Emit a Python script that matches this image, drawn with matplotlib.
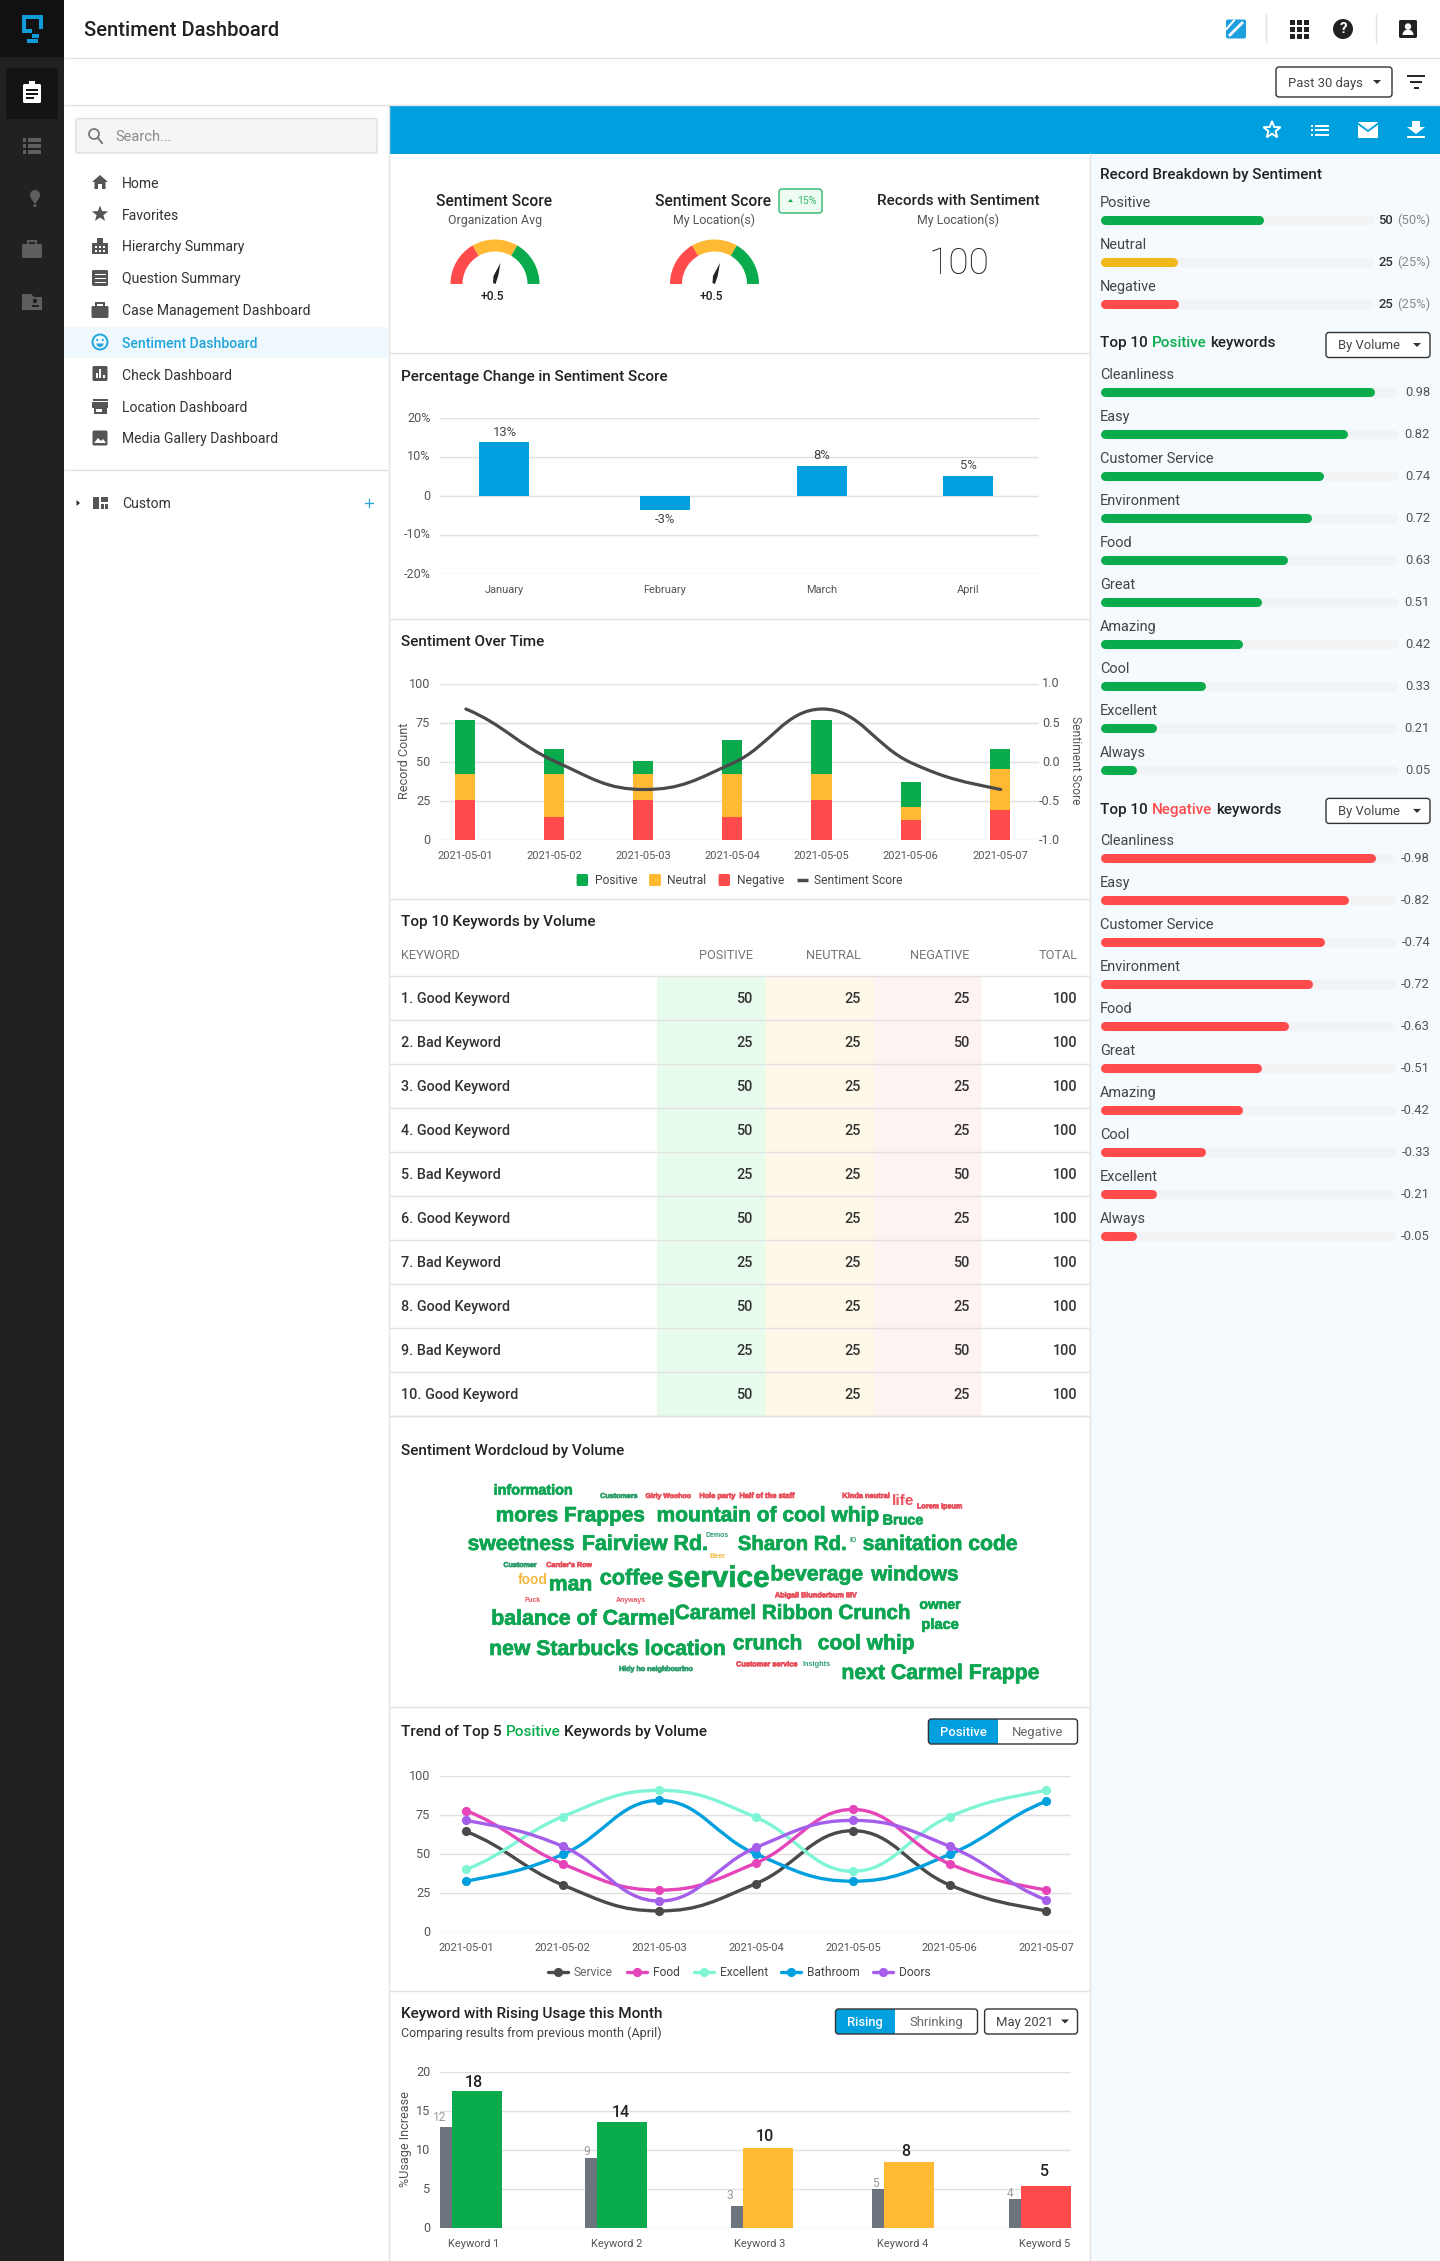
import numpy as np
import matplotlib
matplotlib.use("Agg")
import matplotlib.pyplot as plt
import matplotlib.patheffects as pe
from matplotlib.patches import Rectangle, Circle, Wedge, Polygon, FancyBboxPatch, PathPatch
from matplotlib.path import Path
from matplotlib.textpath import TextPath
from matplotlib.transforms import ScaledTranslation
from matplotlib.font_manager import FontProperties

plt.rcParams['font.family'] = ['Roboto', 'DejaVu Sans']

W, H = 1440, 2261

# colours
GREEN = '#0AAB4C'
ORANGE = '#FFB933'
RED = '#FF4B4B'
BLUE = '#00A0DF'
YELLOW = '#F0B91B'
DARK = '#2B2B2B'
GRID = '#E0E0E0'
LINE = '#E2E2E2'
TICK = '#555555'
TITLE = 15.3

# data
pct_months = ['January', 'February', 'March', 'April']
pct_values = [13.9, -3.5, 7.8, 5.2]
pct_labels = ['13%', '-3%', '8%', '5%']

days = ['2021-05-01', '2021-05-02', '2021-05-03', '2021-05-04', '2021-05-05', '2021-05-06', '2021-05-07']
day_negative = [26, 15, 26, 15, 26, 13, 19.5]
day_neutral = [16.5, 27.5, 16.5, 27.5, 16.5, 8, 26]
day_positive = [34.5, 16, 8.5, 21.5, 34.5, 16.5, 13]
day_score = [0.68, 0.01, -0.35, -0.01, 0.68, -0.01, -0.35]

table_names = ['Good Keyword', 'Bad Keyword', 'Good Keyword', 'Good Keyword', 'Bad Keyword',
               'Good Keyword', 'Bad Keyword', 'Good Keyword', 'Bad Keyword', 'Good Keyword']
table_positive = [50, 25, 50, 50, 25, 50, 25, 50, 25, 50]
table_neutral = [25, 25, 25, 25, 25, 25, 25, 25, 25, 25]
table_negative = [25, 50, 25, 25, 50, 25, 50, 25, 50, 25]
table_total = [100, 100, 100, 100, 100, 100, 100, 100, 100, 100]

trend_service = [64.5, 30.3, 13.7, 31.2, 65, 30.3, 13.7]
trend_food = [77.8, 43.8, 27, 44.4, 78.6, 43.8, 27]
trend_excellent = [40.2, 74, 90.8, 73.5, 39, 74, 90.8]
trend_bathroom = [32.7, 49.8, 84.4, 50, 32.7, 49.8, 83.8]
trend_doors = [71.6, 55, 20, 54.3, 71.6, 55, 20.7]

rising_names = ['Keyword 1', 'Keyword 2', 'Keyword 3', 'Keyword 4', 'Keyword 5']
rising_before = [13, 9, 2.9, 5, 3.8]
rising_now = [17.6, 13.6, 10.3, 8.5, 5.4]
rising_before_labels = ['12', '9', '3', '5', '4']
rising_now_labels = ['18', '14', '10', '8', '5']
rising_colors = [GREEN, GREEN, ORANGE, ORANGE, RED]

breakdown_names = ['Positive', 'Neutral', 'Negative']
breakdown_counts = [50, 25, 25]
breakdown_share = ['(50%)', '(25%)', '(25%)']
breakdown_length = [163, 77, 78]

keyword_names = ['Cleanliness', 'Easy', 'Customer Service', 'Environment', 'Food',
                 'Great', 'Amazing', 'Cool', 'Excellent', 'Always']
keyword_scores = [0.98, 0.82, 0.74, 0.72, 0.63, 0.51, 0.42, 0.33, 0.21, 0.05]
keyword_length = [275, 248, 224, 212, 188, 161, 142, 105, 56, 36]

nav_names = ['Home', 'Favorites', 'Hierarchy Summary', 'Question Summary', 'Case Management Dashboard',
             'Sentiment Dashboard', 'Check Dashboard', 'Location Dashboard', 'Media Gallery Dashboard']

WG = '#0DA552'
WT = '#2F9F6E'
WR = '#E8525E'
WO = '#F4B942'
word_texts = ['information', 'Customers', 'Girly Woohoo', 'Hole party', 'Half of the staff', 'Kinda neutral',
              'life', 'Lorem Ipsum', 'mores Frappes', 'mountain of cool whip', 'Bruce', 'sweetness',
              'Fairview Rd.', 'Demos', 'Sharon Rd.', 'IO', 'sanitation code', 'Beer', 'Customer',
              "Carder's Row", 'food', 'man', 'coffee', 'service', 'beverage', 'windows', 'Fuck', 'Anyways',
              'Abigail Blunderbum IIIV', 'owner', 'place', 'balance of Carmel', 'Caramel Ribbon Crunch',
              'new Starbucks location', 'crunch', 'cool whip', 'Hidy ho neighbourino', 'Customer service',
              'Insights', 'next Carmel Frappe']
word_colors = [WG, WT, WR, WR, WR, WR, WR, WR, WG, WG, WG, WG, WG, WT, WG, WT, WG, WO, WT, WR, WO, WG, WG, WG,
               WG, WG, WR, WR, WR, WG, WG, WG, WG, WG, WG, WG, WT, WR, WT, WG]
word_left = [156, 417, 528, 660, 758, 1010, 1132, 1193, 161, 555, 1109, 92, 372, 676, 754, 1028, 1060, 685, 180,
             285, 215, 291, 416, 581, 834, 1081, 231, 456, 845, 1199, 1204, 150, 600, 145, 742, 950, 463, 750,
             912, 1008]
word_right = [345, 507, 638, 747, 892, 1124, 1182, 1302, 521, 1095, 1205, 350, 674, 731, 1016, 1044, 1436, 723, 260,
              396, 285, 391, 568, 827, 1056, 1293, 269, 528, 1045, 1298, 1292, 593, 1172, 718, 907, 1183, 642, 899,
              979, 1488]
word_mid = [87, 105, 105, 105, 105, 105, 118, 136, 163, 163, 177, 249, 249, 222, 249, 238, 249, 284, 312,
            312, 355, 370, 352, 352, 340, 340, 416, 416, 403, 430, 490, 473, 456, 564, 547, 547, 624, 610,
            610, 636]

fig = plt.figure(figsize=(W / 100, H / 100), dpi=100, facecolor='white')
page = fig.add_axes([0, 0, 1, 1], zorder=0)
page.set_xlim(0, W)
page.set_ylim(H, 0)
page.axis('off')


def px_axes(x0, y0, x1, y1):
    ax = fig.add_axes([x0 / W, 1 - y1 / H, (x1 - x0) / W, (y1 - y0) / H], zorder=2)
    ax.patch.set_alpha(0)
    for side in ax.spines.values():
        side.set_visible(False)
    return ax


def rect(x0, y0, x1, y1, color, z=1):
    page.add_patch(Rectangle((x0, y0), x1 - x0, y1 - y0, fc=color, ec='none', zorder=z))


def hline(y, x0, x1, color=LINE, lw=1.0, z=2):
    page.plot([x0, x1], [y, y], color=color, lw=lw, solid_capstyle='butt', zorder=z)


def vline(x, y0, y1, color=LINE, lw=1.0, z=2):
    page.plot([x, x], [y0, y1], color=color, lw=lw, solid_capstyle='butt', zorder=z)


def box(x0, y0, x1, y1, fc='white', ec='#333333', r=3, lw=1.0, z=3):
    page.add_patch(FancyBboxPatch((x0, y0), x1 - x0, y1 - y0, boxstyle=f'round,pad=0,rounding_size={r}',
                                  fc=fc, ec=ec, lw=lw, zorder=z))


def label(x, y, s, px=14, color=DARK, ha='left', weight='normal', z=6, **kw):
    # roboto sits a little high with va=center, so nudge it down
    return page.text(x, y + 1.5, s, fontsize=px * 0.72, color=color, ha=ha, va='center', fontweight=weight, zorder=z, **kw)


def pieces(x, y, parts, px=TITLE, weight='medium'):
    # title with words in different colours, laid out one after the other on one baseline
    r = fig.canvas.get_renderer()
    for s, c in parts:
        t = page.text(x, y + 1.5 + px * 0.3, s, fontsize=px * 0.72, color=c, ha='left', va='baseline',
                      fontweight=weight, zorder=6)
        x += t.get_window_extent(r).width + px * 0.25


def toggle(x0, xm, x1, y0, y1, on, off):
    box(x0, y0, xm + 3, y1, fc=BLUE, ec='none', r=3, z=3)
    rect(xm, y0, x1 - 3, y1, 'white', z=3.1)
    box(x0, y0, x1, y1, fc='none', ec='#333333', z=4)
    label((x0 + xm) / 2, (y0 + y1) / 2 - 0.5, on, 13, 'white', ha='center', weight='medium')
    label((xm + x1) / 2, (y0 + y1) / 2 - 0.5, off, 13, '#666666', ha='center')


def caret(x, y, color='#333333'):
    page.add_patch(Polygon([(x - 4, y - 2), (x + 4, y - 2), (x, y + 2)], fc=color, ec='none', zorder=6))


def dropdown(x0, y0, x1, y1, s, tx, cx):
    box(x0, y0, x1, y1)
    label(tx, (y0 + y1) / 2 - 0.5, s, 13, '#444444')
    caret(cx, (y0 + y1) / 2)


def smooth(xs, ys, end=0.7):
    # one cubic bezier per interval, flat at the turning points
    xs = np.asarray(xs, float)
    ys = np.asarray(ys, float)
    n = len(xs)
    slope = np.zeros(n)
    slope[0] = (ys[1] - ys[0]) / (xs[1] - xs[0]) * end
    slope[-1] = (ys[-1] - ys[-2]) / (xs[-1] - xs[-2]) * end
    for i in range(1, n - 1):
        if (ys[i] - ys[i - 1]) * (ys[i + 1] - ys[i]) > 0:
            slope[i] = (ys[i + 1] - ys[i - 1]) / (xs[i + 1] - xs[i - 1])
    verts = [(xs[0], ys[0])]
    codes = [Path.MOVETO]
    for i in range(n - 1):
        d = (xs[i + 1] - xs[i]) * 0.42
        verts += [(xs[i] + d, ys[i] + slope[i] * d), (xs[i + 1] - d, ys[i + 1] - slope[i + 1] * d), (xs[i + 1], ys[i + 1])]
        codes += [Path.CURVE4] * 3
    return Path(verts, codes)


def lift_labels(ax):
    # y tick labels sit just above their grid line in the reference
    for t in ax.get_yticklabels():
        t.set_transform(t.get_transform() + ScaledTranslation(0, 1.5 / 100, fig.dpi_scale_trans))


def style_axis(ax, yticks, ylabels):
    ax.set_yticks(yticks)
    ax.set_yticklabels(ylabels)
    ax.yaxis.grid(True, color=GRID, lw=1.0)
    ax.xaxis.grid(False)
    ax.set_axisbelow(True)
    ax.tick_params(axis='y', length=0, pad=7, labelsize=12 * 0.72 + 0.5, labelcolor=TICK)
    ax.tick_params(axis='x', length=0, labelsize=11 * 0.72, labelcolor=TICK)
    lift_labels(ax)


# page frame
rect(0, 0, 64, H, '#212121')
rect(0, 0, 64, 57, '#111111')
rect(6, 68, 58, 119, '#141414')
hline(57.5, 64, W)
hline(105, 64, W)
rect(389, 106, W, 153.5, BLUE)
rect(1090, 153.5, W, H, '#F5FAFE')
vline(388.5, 106, H)
vline(1089.5, 153, H)
rect(64, 326.5, 388, 357.5, '#EFF9FD')
hline(470, 64, 388)
label(84, 28.5, 'Sentiment Dashboard', 20.2, '#222222', weight='medium')


# small icons, all built out of basic shapes
def p_rect(x0, y0, x1, y1, c, z=5):
    rect(x0, y0, x1, y1, c, z)


def p_round(x0, y0, x1, y1, c, r=1.5, z=5):
    box(x0, y0, x1, y1, fc=c, ec='none', r=r, z=z)


def star(cx, cy, r, fc, ec='none', lw=0):
    a = np.radians(np.arange(10) * 36 - 90)
    rad = np.where(np.arange(10) % 2 == 0, r, r * 0.42)
    page.add_patch(Polygon(np.c_[cx + rad * np.cos(a), cy + rad * np.sin(a)], fc=fc, ec=ec, lw=lw, zorder=5))


def icon_clipboard(cx, cy, c, bg):
    p_round(cx - 9, cy - 9, cx + 9, cy + 10, c)
    p_rect(cx - 3, cy - 12, cx + 3, cy - 8, c)
    for dy, w in ((-3, 6), (1, 6), (5, 4)):
        p_rect(cx - 6, cy + dy - 0.8, cx - 6 + 2 * w, cy + dy + 0.8, bg, z=5.5)


def icon_list(cx, cy, c):
    for dy in (-6, 0, 6):
        p_rect(cx - 9, cy + dy - 2, cx - 6, cy + dy + 2, c)
        p_rect(cx - 4.5, cy + dy - 2, cx + 9, cy + dy + 2, c)


def icon_case(cx, cy, c, w=10, h=8):
    p_round(cx - w, cy - h + 2, cx + w, cy + h, c)
    page.add_patch(Rectangle((cx - 4, cy - h - 1), 8, 4, fc='none', ec=c, lw=1.4, zorder=5))


icon_clipboard(32, 93, 'white', '#141414')
icon_list(32, 146, '#5E5E5E')
page.add_patch(Circle((35, 195), 5, fc='#5E5E5E', ec='none', zorder=5))
page.add_patch(Polygon([(30.5, 197), (39.5, 197), (36, 203), (34, 203)], fc='#5E5E5E', ec='none', zorder=5))
page.add_patch(Circle((35, 205.5), 1.6, fc='#5E5E5E', ec='none', zorder=5))
icon_case(32, 250, '#5E5E5E')
page.add_patch(Polygon([(22, 294), (31, 294), (34, 297), (42, 297), (42, 310), (22, 310)], fc='#5E5E5E', ec='none', zorder=5))
page.add_patch(Circle((35, 301), 2.2, fc='#212121', ec='none', zorder=6))
p_rect(31.5, 304.5, 38.5, 307, '#212121', z=6)

# logo
page.add_patch(Polygon([(22, 15), (43, 15), (43, 29), (39, 29), (39, 19), (26, 19), (26, 29), (32, 29), (32, 33), (22, 33)],
                       fc='#0F9BD7', ec='none', zorder=5))
p_rect(32, 34, 39, 37.5, '#0F9BD7')
p_rect(27, 39, 38, 43, '#0F9BD7')

# search box
box(76, 118.5, 377, 153, fc='#F5F5F5', ec='#DDDDDD', r=2)
page.add_patch(Circle((94, 134), 5, fc='none', ec='#777777', lw=1.3, zorder=6))
page.plot([98, 102], [138, 143], color='#777777', lw=1.4, zorder=6)
label(115.5, 135.5, 'Search...', 14.6, '#8A8A8A')

# left nav
IC = '#555555'
for i, name in enumerate(nav_names):
    ny = 182 + 32 * i
    selected = name == 'Sentiment Dashboard'
    label(122, ny, name, 14, '#22A5DB' if selected else '#333333', weight='medium' if selected else 'normal')
page.add_patch(Polygon([(100, 175), (108, 182), (105.5, 182), (105.5, 189), (102, 189), (102, 184), (98, 184), (98, 189),
                        (94.5, 189), (94.5, 182), (92, 182)], fc=IC, ec='none', zorder=5))
star(100, 214, 8.5, IC)
p_rect(92, 243, 108, 254, IC)
p_rect(97, 238, 103, 244, IC)
for dx in (95, 99, 103):
    for dy in (246, 250):
        p_rect(dx, dy, dx + 2, dy + 2, 'white', z=5.5)
p_round(92, 270, 108, 286, IC)
for dy in (273.5, 277.5, 281.5):
    p_rect(94.5, dy, 105.5, dy + 1.6, 'white', z=5.5)
icon_case(100, 311, IC, w=8.5, h=7)
page.add_patch(Circle((100, 342), 7.5, fc='none', ec='#22A5DB', lw=1.4, zorder=5))
page.add_patch(Circle((97.2, 340), 1.1, fc='#22A5DB', ec='none', zorder=5))
page.add_patch(Circle((102.8, 340), 1.1, fc='#22A5DB', ec='none', zorder=5))
page.add_patch(Wedge((100, 343.5), 3.6, 0, 180, fc='#22A5DB', ec='none', zorder=5))
p_round(92.5, 366, 107.5, 381, IC)
for x0, h in ((95.5, 5), (99, 9), (102.5, 3)):
    p_rect(x0, 378 - h, x0 + 2, 378, 'white', z=5.5)
p_rect(92.5, 399, 107.5, 401, IC)
p_rect(92, 402, 108, 407.5, IC)
p_rect(93.5, 407, 106.5, 413.5, IC)
p_rect(96, 408.5, 102, 411.5, 'white', z=5.5)
p_round(92.5, 430.5, 107.5, 445.5, IC)
page.add_patch(Polygon([(94, 443), (98, 438), (101, 441), (103, 439), (106, 443)], fc='white', ec='none', zorder=5.5))
page.add_patch(Polygon([(76.5, 500), (80, 503), (76.5, 506)], fc='#333333', ec='none', zorder=5))
p_rect(93, 497, 99, 509, IC)
p_rect(100.5, 497, 108, 502, IC)
p_rect(100.5, 503.5, 103.5, 509, IC)
p_rect(105, 503.5, 108, 509, IC)
label(122, 503, 'Custom', 14, '#333333')
page.plot([365, 373], [503, 503], color='#22A5DB', lw=0.9, zorder=5)
page.plot([369, 369], [499, 507], color='#22A5DB', lw=0.9, zorder=5)

# top bar icons
p_round(1226, 19.5, 1246, 38.5, '#1E9FDD', r=2)
page.plot([1230, 1242], [35, 23], color='white', lw=2.0, zorder=6)
page.plot([1226.5, 1234], [29, 20.5], color='white', lw=1.5, zorder=6)
vline(1266, 14, 43)
vline(1375.5, 14, 43)
for dx in (-7, 0, 7):
    for dy in (-7, 0, 7):
        p_rect(1299 + dx - 2.5, 29 + dy - 2.5, 1299 + dx + 2.5, 29 + dy + 2.5, '#222222')
page.add_patch(Circle((1343, 29), 10, fc='#222222', ec='none', zorder=5))
label(1343, 27.5, '?', 15, 'white', ha='center', weight='bold')
p_round(1399, 20, 1417, 38, '#222222')
page.add_patch(Circle((1408, 26.5), 3.2, fc='white', ec='none', zorder=6))
page.add_patch(Wedge((1408, 35), 5.5, 180, 360, fc='white', ec='none', zorder=6))

dropdown(1276, 67, 1392, 97, 'Past 30 days', 1288, 1377)
hline(76, 1407, 1425, '#222222', 1.4, z=5)
hline(82, 1410, 1422, '#222222', 1.4, z=5)
hline(88, 1413.5, 1418.5, '#222222', 1.4, z=5)

# blue band icons
star(1272, 130, 9, 'none', ec='white', lw=1.4)
for dy in (-4.5, 0, 4.5):
    p_rect(1311, 130 + dy - 1, 1313, 130 + dy + 1, 'white')
    p_rect(1315, 130 + dy - 1, 1329, 130 + dy + 1, 'white')
p_round(1358, 122, 1378, 138, 'white', r=1)
page.plot([1358.5, 1368, 1377.5], [124, 131, 124], color=BLUE, lw=1.3, zorder=6)
page.add_patch(Polygon([(1412, 121), (1420, 121), (1420, 127), (1425, 127), (1416, 134), (1407, 127), (1412, 127)],
                       fc='white', ec='none', zorder=5))
p_rect(1407, 136, 1425, 138, 'white')

# section dividers
for y in (353, 619, 899, 1416, 1707, 1991):
    hline(y, 389, 1089)


# KPI row
def gauge(cx, cy=284):
    for t0, t1, c in ((180, 240, RED), (240, 300, ORANGE), (300, 360, GREEN)):
        page.add_patch(Wedge((cx, cy), 44.5, t0, t1, width=12, fc=c, ec='none', zorder=3))
    page.add_patch(Polygon([(cx + 5.5, cy - 21), (cx + 3.2, cy - 8), (cx + 0.5, cy), (cx - 2, cy - 1), (cx - 1.5, cy - 8)],
                           fc='#222222', ec='none', zorder=4))
    label(cx - 3, 294.5, '+0.5', 12, '#222222', ha='center', weight='medium')


label(494.5, 199.5, 'Sentiment Score', 15.6, '#222222', ha='center', weight='medium')
label(495, 219, 'Organization Avg', 12.4, '#555555', ha='center')
gauge(495)
label(713.5, 199.5, 'Sentiment Score', 15.6, '#222222', ha='center', weight='medium')
label(714, 219, 'My Location(s)', 12.4, '#555555', ha='center')
gauge(714.5)
box(779, 189, 822, 213, fc='#EDFBF2', ec='#2FB56D', r=3)
page.add_patch(Polygon([(788, 202), (793, 202), (790.5, 199)], fc=GREEN, ec='none', zorder=6))
label(797, 199.5, '15%', 10.5, '#39B873')
label(958, 199.5, 'Records with Sentiment', TITLE, '#222222', ha='center', weight='medium')
label(958, 219, 'My Location(s)', 12.4, '#555555', ha='center')
label(958.5, 262, '100', 37, '#222222', ha='center', weight='light')

# percentage change chart
label(401, 375, 'Percentage Change in Sentiment Score', TITLE, '#222222', weight='medium')
ax = px_axes(440, 418, 1039, 574)
pct_x = [504, 665, 822, 968]
ax.bar(pct_x, pct_values, width=50, color=BLUE, zorder=3)
ax.set_xlim(440, 1039)
ax.set_ylim(-20, 20)
style_axis(ax, [-20, -10, 0, 10, 20], ['-20%', '-10%', '0', '10%', '20%'])
ax.set_xticks(pct_x)
ax.set_xticklabels(pct_months)
ax.tick_params(axis='x', pad=8)
for x, v, s in zip(pct_x, pct_values, pct_labels):
    ax.annotate(s, (x, v), xytext=(1 if v > 10 else 0, 7 if v > 0 else -7), textcoords='offset points',
                ha='center', va='center', fontsize=13 * 0.72, color='#444444')

# sentiment over time
label(401, 640, 'Sentiment Over Time', TITLE, '#222222', weight='medium')
ax = px_axes(440, 684, 1039, 840.3)
day_x = np.arange(7)
neg = np.array(day_negative)
neu = np.array(day_neutral)
pos = np.array(day_positive)
ax.bar(day_x, neg, width=0.225, color=RED, zorder=3)
ax.bar(day_x, neu, bottom=neg, width=0.225, color=ORANGE, zorder=3)
ax.bar(day_x, pos, bottom=neg + neu, width=0.225, color=GREEN, zorder=3)
ax.set_xlim(-0.28, 6.44)
ax.set_ylim(0, 100)
style_axis(ax, [0, 25, 50, 75, 100], ['0', '25', '50', '75', '100'])
ax.set_xticks(day_x)
ax.set_xticklabels(days)
ax.tick_params(axis='x', pad=8)
ax2 = ax.twinx()
ax2.patch.set_alpha(0)
for side in ax2.spines.values():
    side.set_visible(False)
ax2.set_ylim(-1, 1)
ax2.set_yticks([-1, -0.5, 0, 0.5, 1])
ax2.set_yticklabels(['-1.0', '-0.5', '0.0', '0.5', '1.0'], ha='right')
ax2.tick_params(axis='y', length=0, pad=15, labelsize=12 * 0.72 + 0.5, labelcolor=TICK)
lift_labels(ax2)
ax2.add_patch(PathPatch(smooth(day_x + 0.01, day_score), fc='none', ec='#4A4A4A', lw=2.3, capstyle='round', zorder=5))
label(404.5, 759.5, 'Record Count', 12.6, '#555555', ha='center', rotation=90)
label(1075, 759, 'Sentiment Score', 12, '#555555', ha='center', rotation=270)
for x0, x1, s, c in ((576.6, 588, 'Positive', GREEN), (649, 661, 'Neutral', ORANGE), (718.6, 730, 'Negative', RED)):
    box(x0, 874, x1, 886, fc=c, ec='none', r=1.5)
    label(x1 + 6.5, 879, s, 12, '#444444')
hline(880, 797, 808, '#4A4A4A', 2.5, z=5)
label(814.5, 879, 'Sentiment Score', 12, '#444444')

# keyword table
label(401, 920.5, 'Top 10 Keywords by Volume', TITLE, '#222222', weight='medium')
row_h = 44
top = 976.3
rect(657, top, 765, top + 10 * row_h, '#E6FBEC')
rect(765, top, 874, top + 10 * row_h, '#FEF8E8')
rect(874, top, 982, top + 10 * row_h, '#FDF3F3')
col_right = [752.5, 861, 969.5, 1077.5]
label(401, 954, 'KEYWORD', 12.8, '#777777')
for x, s in zip(col_right, ['POSITIVE', 'NEUTRAL', 'NEGATIVE', 'TOTAL']):
    label(x, 954, s, 12.8, '#777777', ha='right')
hline(top, 389, 1089, z=3)
for i in range(10):
    yc = top + row_h * (i + 0.5) - 0.5
    hline(top + row_h * (i + 1), 389, 1089, z=3)
    label(401, yc, f'{i + 1}. {table_names[i]}', 14.4, '#333333', weight='medium')
    for x, v in zip(col_right, (table_positive[i], table_neutral[i], table_negative[i], table_total[i])):
        label(x, yc, str(v), 14.4, '#333333', ha='right', weight='medium')

# wordcloud
label(401, 1449.5, 'Sentiment Wordcloud by Volume', TITLE, '#222222', weight='medium')
cloud_font = FontProperties(family='Liberation Sans', weight='bold')
for s, c, x0, x1, ym in zip(word_texts, word_colors, word_left, word_right, word_mid):
    left = 430 + x0 / 2.45
    target = (x1 - x0) / 2.45
    natural = TextPath((0, 0), s, size=100, prop=cloud_font).get_extents().width
    t = page.text(left, 1461.5 + ym / 3, s, color=c, ha='left', va='center', fontproperties=cloud_font.copy(), zorder=5)
    t.set_fontsize(100 * target / natural * 0.72)
    if target > 30:
        t.set_path_effects([pe.withStroke(linewidth=0.5, foreground=c)])

# trend of top keywords
pieces(401, 1730, [('Trend of Top 5', '#222222'), ('Positive', GREEN), ('Keywords by Volume', '#222222')])
toggle(928.4, 998, 1077.5, 1719, 1744, 'Positive', 'Negative')
ax = px_axes(440, 1776, 1071, 1932.3)
ax.set_xlim(-0.269, 6.256)
ax.set_ylim(0, 100)
style_axis(ax, [0, 25, 50, 75, 100], ['0', '25', '50', '75', '100'])
ax.set_xticks(day_x)
ax.set_xticklabels(days)
ax.tick_params(axis='x', pad=8)
trend_series = [('Service', trend_service, '#4A4A4A'), ('Excellent', trend_excellent, '#7FF5D6'),
                ('Bathroom', trend_bathroom, BLUE), ('Food', trend_food, '#E545B8'), ('Doors', trend_doors, '#A55EEA')]
for name, vals, c in trend_series:
    ax.add_patch(PathPatch(smooth(day_x, vals), fc='none', ec=c, lw=2.4, zorder=4))
    ax.plot(day_x, vals, 'o', color=c, ms=6.6, mec='none', zorder=5, clip_on=False)
legend_x = [(548, 'Service', '#4A4A4A', '#666666'), (627, 'Food', '#E545B8', '#444444'), (693.6, 'Excellent', '#7FF5D6', '#444444'),
            (781, 'Bathroom', BLUE, '#444444'), (873, 'Doors', '#A55EEA', '#444444')]
for x0, s, c, tc in legend_x:
    page.plot([x0, x0 + 20], [1972, 1972], color=c, lw=2.4, zorder=5, solid_capstyle='round')
    page.plot([x0 + 10], [1972], 'o', color=c, ms=6.6, mec='none', zorder=5)
    label(x0 + 26, 1971, s, 12, tc)

# rising keywords
label(401, 2012.5, 'Keyword with Rising Usage this Month', TITLE, '#222222', weight='medium')
label(401, 2032, 'Comparing results from previous month (April)', 12.5, '#444444')
toggle(835.5, 895, 977.5, 2009, 2034, 'Rising', 'Shrinking')
dropdown(984.6, 2009, 1077.5, 2034, 'May 2021', 996, 1065)
ax = px_axes(440, 2072.3, 1071, 2228.3)
before_x = [446, 591, 737, 878, 1015]
now_x = [477, 622, 768, 909, 1046]
ax.bar(before_x, rising_before, width=12, color='#6C757D', zorder=3)
ax.bar(now_x, rising_now, width=50, color=rising_colors, zorder=3)
ax.set_xlim(440, 1071)
ax.set_ylim(0, 20)
style_axis(ax, [0, 5, 10, 15, 20], ['0', '5', '10', '15', '20'])
ax.set_xticks([473.5, 617, 760, 902.5, 1045])
ax.set_xticklabels(rising_names)
ax.tick_params(axis='x', pad=8)
now_gap = [6.3, 6.7, 8, 7.7, 10.6]
now_dx = [-2, -1, -2, -2, -1]
before_gap = [6.5, 4.7, 7.5, 4, 4]
before_dx = [-4.5, -3, -5, -2, -3.5]
for x, v, s, gap, dx in zip(now_x, rising_now, rising_now_labels, now_gap, now_dx):
    ax.annotate(s, (x, v), xytext=(dx, gap), textcoords='offset points', ha='center', va='center',
                fontsize=16 * 0.72, color='#222222', fontweight='medium')
for x, v, s, gap, dx in zip(before_x, rising_before, rising_before_labels, before_gap, before_dx):
    ax.annotate(s, (x, v), xytext=(dx, gap), textcoords='offset points', ha='center', va='center',
                fontsize=12 * 0.72, color='#9A9A9A', annotation_clip=False)
label(405.5, 2137.5, '%Usage Increase', 12.6, '#555555', ha='center', rotation=90)


# right panel
def bar_rows(names, lengths, first_y, track_end, color):
    # one strip axes per group, x scale in pixels from the track start
    n = len(names)
    width = track_end - 1100
    ax = px_axes(1100, first_y - 21, track_end, first_y + 42 * n - 21)
    ax.axis('off')
    ax.set_xlim(0, width)
    ax.set_ylim(n - 0.5, -0.5)
    rows = np.arange(n)
    ax.hlines(rows, 4.5, width - 4.5, color='#F1F3F4', lw=6.5, capstyle='round', clip_on=False, zorder=2)
    ax.hlines(rows, 4.5, np.array(lengths) - 4.5, color=color, lw=6.5, capstyle='round', clip_on=False, zorder=3)
    for i, name in enumerate(names):
        label(1100, first_y + 42 * i - 18.5, name, 14.5, '#444444')


label(1100, 173, 'Record Breakdown by Sentiment', TITLE, '#222222', weight='medium')
bar_rows(breakdown_names[:1], breakdown_length[:1], 220, 1373, GREEN)
bar_rows(breakdown_names[1:2], breakdown_length[1:2], 262, 1373, YELLOW)
bar_rows(breakdown_names[2:], breakdown_length[2:], 304, 1373, RED)
for i in range(3):
    yc = 219 + 42 * i
    label(1430, yc, breakdown_share[i], 13, '#888888', ha='right')
    label(1393, yc, str(breakdown_counts[i]), 13, '#333333', ha='right', weight='medium')

pieces(1100, 341, [('Top 10', '#222222'), ('Positive', GREEN), ('keywords', '#222222')])
dropdown(1326, 332.5, 1430, 357.5, 'By Volume', 1338, 1417)
bar_rows(keyword_names, keyword_length, 392, 1398, GREEN)
for i, v in enumerate(keyword_scores):
    label(1430, 391 + 42 * i, f'{v:.2f}', 13, '#555555', ha='right')

pieces(1100, 807.5, [('Top 10', '#222222'), ('Negative', RED), ('keywords', '#222222')])
dropdown(1326, 798.4, 1430, 823.4, 'By Volume', 1338, 1417)
bar_rows(keyword_names, keyword_length, 858, 1395, RED)
for i, v in enumerate(keyword_scores):
    label(1430, 857 + 42 * i, f'-{v:.2f}', 13, '#555555', ha='right')

fig.savefig('out.png', dpi=100, facecolor='white')
